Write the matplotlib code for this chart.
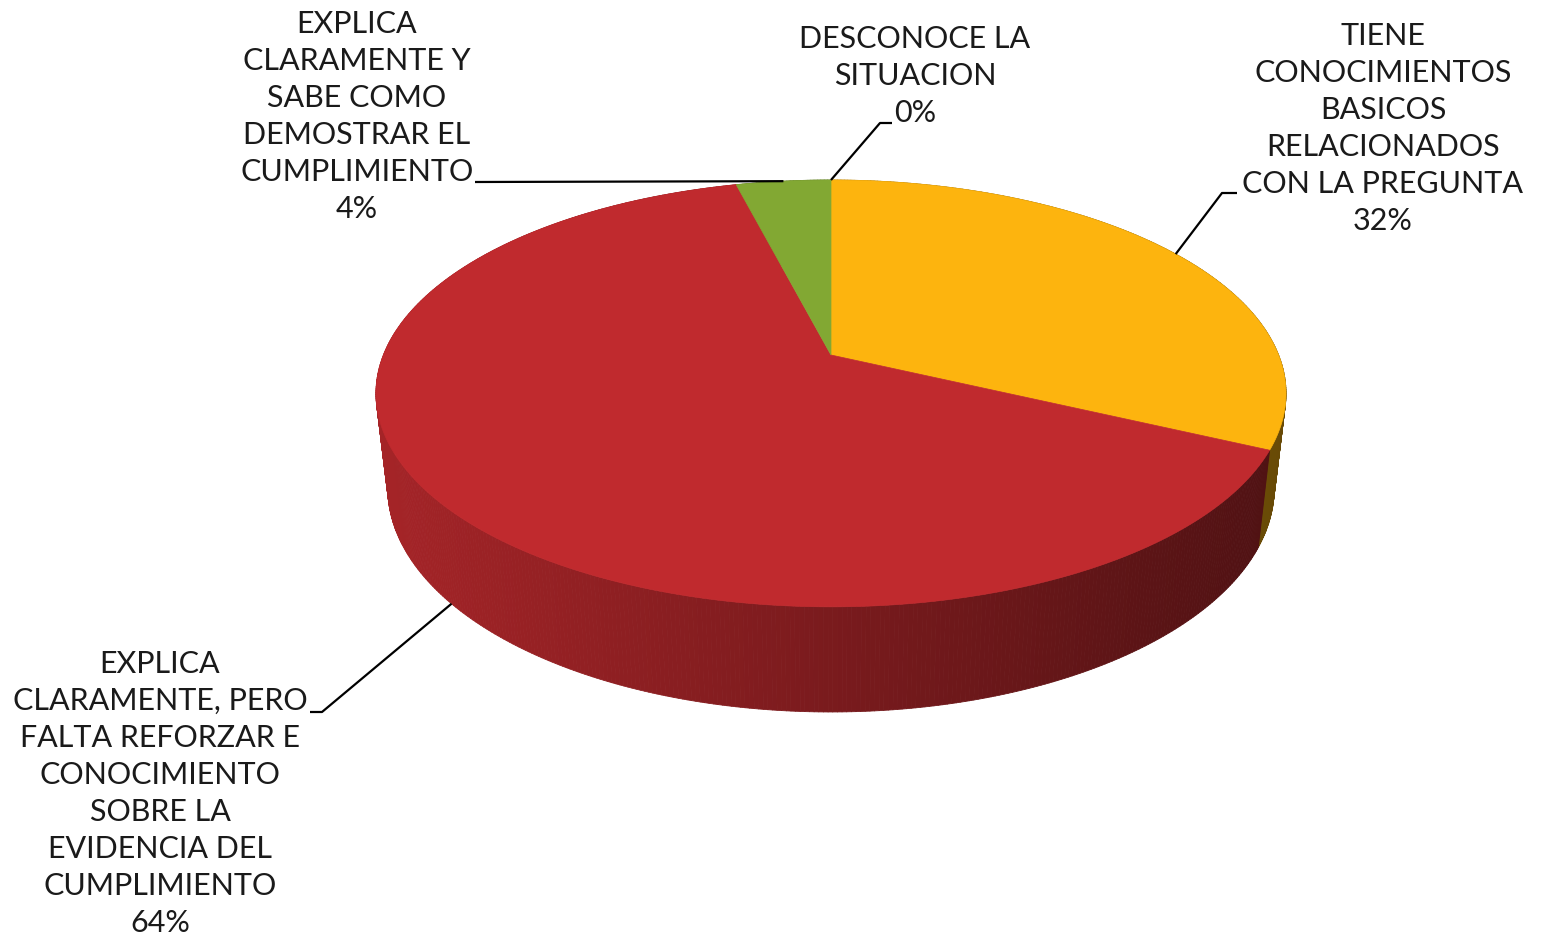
import numpy as np
import matplotlib.pyplot as plt
from matplotlib.collections import PolyCollection
from matplotlib.patches import Polygon
from matplotlib.colors import to_rgb

# Data
labels = [
    ["TIENE", "CONOCIMIENTOS", "BASICOS", "RELACIONADOS", "CON LA PREGUNTA"],
    ["EXPLICA", "CLARAMENTE, PERO", "FALTA REFORZAR E", "CONOCIMIENTO",
     "SOBRE LA", "EVIDENCIA DEL", "CUMPLIMIENTO"],
    ["EXPLICA", "CLARAMENTE Y", "SABE COMO", "DEMOSTRAR EL", "CUMPLIMIENTO"],
    ["DESCONOCE LA", "SITUACION"],
]
values = [32, 64, 4, 0]
colors = ["#FDB40E", "#C02A2E", "#82A833", "#4F81BD"]

# Layout of the labels (pixel coords): text centre x, first baseline, elbow points
label_x = [1383, 160, 357, 915]
label_y0 = [45, 673, 33, 48]
elbows = [
    [(1222, 193), (1237, 193)],
    [(322, 712), (310, 712)],
    [(475, 182)],
    [(880, 123), (892, 123)],
]
line_step = 37

# Perspective model of the pie: top and bottom discs
CX, Q = 831, -0.18
CY_T, P_T, R_T = 355, 447.6, 206.5
CY_B, P_B, R_B = 447.7, 436.0, 216.7


def disc_pt(theta, top=True):
    u, v = np.sin(theta), -np.cos(theta)
    d = 1 + Q * v
    if top:
        return CX + P_T * u / d, CY_T + R_T * v / d
    return CX + P_B * u / d, CY_B + R_B * v / d


fig = plt.figure(figsize=(15.44, 9.36), dpi=100)
ax = fig.add_axes([0, 0, 1, 1])
ax.set_xlim(0, 1544)
ax.set_ylim(936, 0)
ax.axis('off')

total = sum(values)
bounds = np.concatenate([[0], np.cumsum(values)]) / total * 2 * np.pi

# side walls, drawn back to front
quads, qcols, depth = [], [], []
for i in range(len(values)):
    a0, a1 = bounds[i], bounds[i + 1]
    if a1 - a0 <= 0:
        continue
    n = max(2, int(np.degrees(a1 - a0) * 2))
    th = np.linspace(a0, a1, n + 1)
    base = np.array(to_rgb(colors[i]))
    for t0, t1 in zip(th[:-1], th[1:]):
        p1, p2 = disc_pt(t0), disc_pt(t1)
        p3, p4 = disc_pt(t1, False), disc_pt(t0, False)
        xm = (p1[0] + p2[0]) / 2
        f = 0.86 - 0.45 * (xm - 376) / 911
        c = np.clip(base * f, 0, 1)
        quads.append([p1, p2, p3, p4])
        qcols.append(c)
        depth.append(-np.cos((t0 + t1) / 2))
order = np.argsort(depth)
pc = PolyCollection([quads[k] for k in order], facecolors=[qcols[k] for k in order],
                    edgecolors=[qcols[k] for k in order], linewidths=0.6)
ax.add_collection(pc)

# top faces
for i in range(len(values)):
    a0, a1 = bounds[i], bounds[i + 1]
    if a1 - a0 <= 0:
        continue
    th = np.linspace(a0, a1, max(3, int(np.degrees(a1 - a0) * 2)))
    pts = [(CX, CY_T)] + [disc_pt(t) for t in th]
    ax.add_patch(Polygon(pts, closed=True, facecolor=colors[i],
                         edgecolor=colors[i], linewidth=0.5))

# labels and leader lines
for i in range(len(values)):
    mid = (bounds[i] + bounds[i + 1]) / 2
    front = -np.cos(mid) > 0
    anchor = disc_pt(mid, top=not front)
    path = [anchor] + elbows[i]
    xs, ys = zip(*path)
    ax.plot(xs, ys, color='black', lw=1.6, solid_capstyle='butt')
    lines = labels[i] + [f"{values[i]}%"]
    for k, s in enumerate(lines):
        ax.text(label_x[i], label_y0[i] + k * line_step, s, ha='center',
                va='baseline', fontsize=22, family='Lato', color='#1a1a1a')

fig.savefig('out.png', dpi=100)
